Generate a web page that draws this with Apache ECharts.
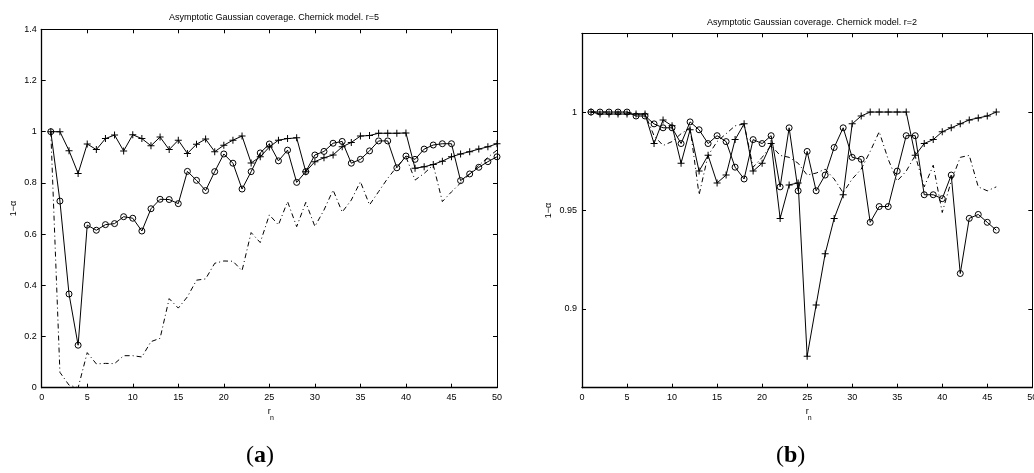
<!DOCTYPE html>
<html>
<head>
<meta charset="utf-8">
<script src="https://cdn.jsdelivr.net/npm/echarts@6.0.0/dist/echarts.min.js"></script>
<style>
html,body{margin:0;padding:0;background:#fff;}
#chart{width:1034px;height:473px;}
</style>
</head>
<body>
<div id="chart"></div>
<script>
// ---- data ----
const titleA = 'Asymptotic Gaussian coverage. Chernick model. r=5';
const titleB = 'Asymptotic Gaussian coverage. Chernick model. r=2';
const xA = Array.from({length: 50}, (_, i) => i + 1);
const xB = Array.from({length: 46}, (_, i) => i + 1);

const plusA = [1.0, 1.0, 0.926, 0.837, 0.952, 0.93, 0.973, 0.987, 0.925, 0.988,
  0.973, 0.945, 0.979, 0.93, 0.967, 0.915, 0.951, 0.971, 0.922, 0.947,
  0.967, 0.983, 0.878, 0.902, 0.94, 0.967, 0.973, 0.976, 0.844, 0.883,
  0.898, 0.909, 0.941, 0.958, 0.983, 0.985, 0.994, 0.994, 0.994, 0.995,
  0.857, 0.863, 0.872, 0.885, 0.902, 0.913, 0.922, 0.932, 0.941, 0.953];
const circleA = [1.0, 0.729, 0.366, 0.166, 0.635, 0.615, 0.637, 0.641, 0.668, 0.662,
  0.612, 0.699, 0.736, 0.735, 0.719, 0.845, 0.81, 0.77, 0.844, 0.913,
  0.877, 0.776, 0.844, 0.917, 0.952, 0.886, 0.928, 0.802, 0.844, 0.909,
  0.923, 0.955, 0.962, 0.877, 0.892, 0.925, 0.964, 0.964, 0.859, 0.905,
  0.892, 0.932, 0.948, 0.953, 0.953, 0.809, 0.835, 0.861, 0.883, 0.902];
const dashA = [1.0, 0.06, 0.01, 0.0, 0.137, 0.093, 0.095, 0.094, 0.125, 0.125,
  0.12, 0.18, 0.193, 0.348, 0.311, 0.355, 0.42, 0.425, 0.486, 0.495,
  0.494, 0.457, 0.606, 0.567, 0.675, 0.636, 0.727, 0.629, 0.724, 0.63,
  0.694, 0.772, 0.686, 0.733, 0.805, 0.714, 0.766, 0.818, 0.863, 0.902,
  0.811, 0.837, 0.87, 0.727, 0.765, 0.80, 0.835, 0.868, 0.9, 0.928];

const plusB = [1.0, 0.999, 0.999, 0.999, 0.999, 0.999, 0.999, 0.984, 0.996, 0.993,
  0.974, 0.991, 0.970, 0.978, 0.964, 0.968, 0.986, 0.994, 0.970, 0.974,
  0.984, 0.946, 0.963, 0.964, 0.876, 0.902, 0.928, 0.946, 0.958, 0.994,
  0.998, 1.0, 1.0, 1.0, 1.0, 1.0, 0.978, 0.984, 0.986, 0.990,
  0.992, 0.994, 0.996, 0.997, 0.998, 1.0];
const circleB = [1.0, 1.0, 1.0, 1.0, 1.0, 0.998, 0.998, 0.994, 0.992, 0.992,
  0.984, 0.995, 0.991, 0.984, 0.988, 0.985, 0.972, 0.966, 0.986, 0.984,
  0.988, 0.962, 0.992, 0.960, 0.980, 0.960, 0.968, 0.982, 0.992, 0.977,
  0.976, 0.944, 0.952, 0.952, 0.970, 0.988, 0.988, 0.958, 0.958, 0.956,
  0.968, 0.918, 0.946, 0.948, 0.944, 0.940];
const dashB = [1.0, 1.0, 1.0, 1.0, 1.0, 0.999, 0.999, 0.988, 0.983, 0.985,
  0.989, 0.992, 0.958, 0.978, 0.985, 0.989, 0.993, 0.994, 0.972, 0.977,
  0.983, 0.978, 0.977, 0.974, 0.968, 0.969, 0.971, 0.966, 0.959, 0.966,
  0.971, 0.980, 0.990, 0.976, 0.965, 0.970, 0.978, 0.962, 0.973, 0.949,
  0.965, 0.977, 0.978, 0.962, 0.960, 0.962];

const yTicksB = [0.9, 0.95, 1];

// ---- chart ----
const FONT = 'Liberation Sans, Arial, sans-serif';
const plusPath = 'path://M3,0h1v7h-1z M0,3h7v1h-7z';
const pairs = (xs, ys) => xs.map((x, i) => [x, ys[i]]);

function mainX(grid) {
  return {
    type: 'value', gridIndex: grid, min: 0, max: 50, interval: 5, position: 'bottom',
    axisLine: {onZero: false, lineStyle: {color: '#000', width: 1.3}},
    axisTick: {inside: true, length: 4, lineStyle: {color: '#000'}},
    axisLabel: {color: '#000', fontSize: 9, fontFamily: FONT, margin: 5},
    splitLine: {show: false},
    name: '{r|r}\n{n|n}', nameLocation: 'middle', nameGap: 14,
    nameTextStyle: {
      color: '#000', fontFamily: FONT,
      rich: {
        r: {fontSize: 9, fontFamily: FONT, color: '#000', lineHeight: 8},
        n: {fontSize: 7, fontFamily: FONT, color: '#000', lineHeight: 6, padding: [0, 0, 0, 5]}
      }
    }
  };
}
function topX(grid) {
  return {
    type: 'value', gridIndex: grid, min: 0, max: 50, interval: 5, position: 'top',
    axisLine: {onZero: false, lineStyle: {color: '#000', width: 1}},
    axisTick: {inside: true, length: 4, lineStyle: {color: '#000'}},
    axisLabel: {show: false}, splitLine: {show: false}
  };
}

const option = {
  backgroundColor: '#fff',
  animation: false,
  title: [
    {text: titleA, left: 269, top: 8, textAlign: 'center',
     textStyle: {fontSize: 9, fontWeight: 'normal', color: '#000', fontFamily: FONT}},
    {text: titleB, left: 807, top: 13, textAlign: 'center',
     textStyle: {fontSize: 9, fontWeight: 'normal', color: '#000', fontFamily: FONT}}
  ],
  grid: [
    {left: 41.7, top: 29.3, width: 455.3, height: 358.4, containLabel: false, outerBoundsMode: 'none'},
    {left: 582, top: 33.3, width: 450.3, height: 354.4, containLabel: false, outerBoundsMode: 'none'}
  ],
  xAxis: [mainX(0), topX(0), mainX(1), topX(1)],
  yAxis: [
    {type: 'value', gridIndex: 0, min: 0, max: 1.4, interval: 0.2, position: 'left',
     axisLine: {onZero: false, lineStyle: {color: '#000', width: 1.3}},
     axisTick: {inside: true, length: 4, lineStyle: {color: '#000'}},
     axisLabel: {color: '#000', fontSize: 9, fontFamily: FONT, margin: 5},
     splitLine: {show: false},
     name: '1−α', nameLocation: 'middle', nameGap: 24,
     nameTextStyle: {color: '#000', fontSize: 9, fontFamily: FONT}},
    {type: 'value', gridIndex: 0, min: 0, max: 1.4, interval: 0.2, position: 'right',
     axisLine: {onZero: false, lineStyle: {color: '#000', width: 1}},
     axisTick: {inside: true, length: 4, lineStyle: {color: '#000'}},
     axisLabel: {show: false}, splitLine: {show: false}},
    {type: 'value', gridIndex: 1, min: 0.86, max: 1.04, position: 'left',
     axisLine: {onZero: false, lineStyle: {color: '#000', width: 1.3}},
     axisTick: {inside: true, length: 4, lineStyle: {color: '#000'}, customValues: yTicksB},
     axisLabel: {color: '#000', fontSize: 9, fontFamily: FONT, margin: 5, customValues: yTicksB},
     splitLine: {show: false},
     name: '1−α', nameLocation: 'middle', nameGap: 29,
     nameTextStyle: {color: '#000', fontSize: 9, fontFamily: FONT}},
    {type: 'value', gridIndex: 1, min: 0.86, max: 1.04, position: 'right',
     axisLine: {onZero: false, lineStyle: {color: '#000', width: 1}},
     axisTick: {inside: true, length: 4, lineStyle: {color: '#000'}, customValues: yTicksB},
     axisLabel: {show: false}, splitLine: {show: false}}
  ],
  series: [
    {type: 'line', xAxisIndex: 0, yAxisIndex: 0, data: pairs(xA, dashA), symbol: 'none',
     lineStyle: {color: '#000', width: 1, type: [5, 3, 1, 3]}},
    {type: 'line', xAxisIndex: 0, yAxisIndex: 0, data: pairs(xA, plusA), symbol: plusPath, symbolSize: 7,
     itemStyle: {color: '#000'}, lineStyle: {color: '#000', width: 1}},
    {type: 'line', xAxisIndex: 0, yAxisIndex: 0, data: pairs(xA, circleA), symbol: 'circle', symbolSize: 6,
     itemStyle: {color: 'rgba(0,0,0,0)', borderColor: '#000', borderWidth: 1}, lineStyle: {color: '#000', width: 1}},
    {type: 'line', xAxisIndex: 2, yAxisIndex: 2, data: pairs(xB, dashB), symbol: 'none',
     lineStyle: {color: '#000', width: 1, type: [5, 3, 1, 3]}},
    {type: 'line', xAxisIndex: 2, yAxisIndex: 2, data: pairs(xB, plusB), symbol: plusPath, symbolSize: 7,
     itemStyle: {color: '#000'}, lineStyle: {color: '#000', width: 1}},
    {type: 'line', xAxisIndex: 2, yAxisIndex: 2, data: pairs(xB, circleB), symbol: 'circle', symbolSize: 6,
     itemStyle: {color: 'rgba(0,0,0,0)', borderColor: '#000', borderWidth: 1}, lineStyle: {color: '#000', width: 1}}
  ],
  graphic: [
    {type: 'text', left: 246, top: 444,
     style: {text: '{p|(}{b|a}{p|)}', rich: {
       p: {fontSize: 24, fontFamily: 'Liberation Serif', fill: '#000'},
       b: {fontSize: 24, fontFamily: 'Liberation Serif', fontWeight: 'bold', fill: '#000'}}}},
    {type: 'text', left: 776, top: 444,
     style: {text: '{p|(}{b|b}{p|)}', rich: {
       p: {fontSize: 24, fontFamily: 'Liberation Serif', fill: '#000'},
       b: {fontSize: 24, fontFamily: 'Liberation Serif', fontWeight: 'bold', fill: '#000'}}}}
  ]
};

const chart = echarts.init(document.getElementById('chart'), null, {renderer: 'canvas'});
chart.setOption(option);
</script>
</body>
</html>
